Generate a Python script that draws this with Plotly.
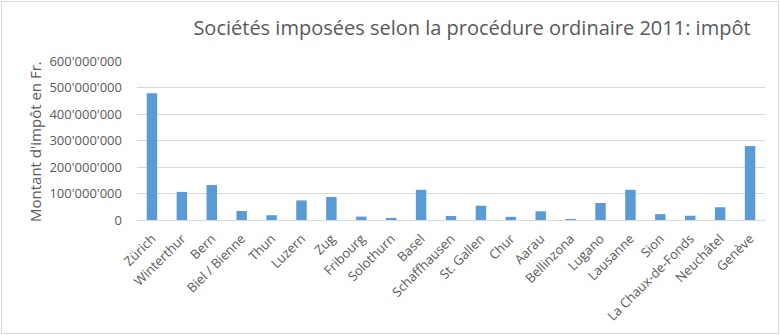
import plotly.graph_objects as go

# Communes and the tax amount (CHF) of ordinarily taxed companies, 2011
communes = [
    "Zürich", "Winterthur", "Bern", "Biel / Bienne", "Thun", "Luzern", "Zug",
    "Fribourg", "Solothurn", "Basel", "Schaffhausen", "St. Gallen", "Chur",
    "Aarau", "Bellinzona", "Lugano", "Lausanne", "Sion", "La Chaux-de-Fonds",
    "Neuchâtel", "Genève",
]
impot = [
    478e6, 106e6, 132e6, 34e6, 18e6, 74e6, 87e6,
    13e6, 8e6, 114e6, 15e6, 54e6, 12e6,
    33e6, 3e6, 64e6, 114e6, 22e6, 16e6,
    48e6, 279e6,
]
y_ticks = [0, 100e6, 200e6, 300e6, 400e6, 500e6, 600e6]

W, H = 780, 335
L, R, T, B = 137, 15, 61, 115
pw, ph = W - L - R, H - T - B

grey_text = "#595959"
font_family = "Open Sans, Liberation Sans, sans-serif"

fig = go.Figure(
    go.Bar(
        x=communes,
        y=impot,
        marker=dict(color="#5B9BD5", line=dict(width=0)),
    )
)

fig.update_layout(
    width=W,
    height=H,
    margin=dict(l=L, r=R, t=T, b=B),
    paper_bgcolor="white",
    plot_bgcolor="white",
    bargap=0.65,
    separators=".'",
    showlegend=False,
    font=dict(family=font_family, color=grey_text, size=12),
    title=dict(
        text="Sociétés imposées selon la procédure ordinaire 2011: impôt",
        xref="container",
        x=472 / W,
        xanchor="center",
        yref="container",
        y=1 - 28 / H,
        yanchor="middle",
        font=dict(size=20, color=grey_text, family=font_family),
    ),
)

fig.update_xaxes(
    tickangle=-45,
    tickfont=dict(size=13, color=grey_text),
    showline=True,
    linecolor="#D9D9D9",
    linewidth=1,
    ticks="",
    ticklabelstandoff=5,
    showgrid=False,
)

fig.update_yaxes(
    range=[0, 600e6],
    tickvals=y_ticks,
    tickformat=",d",
    tickfont=dict(size=13, color=grey_text),
    showgrid=True,
    gridcolor="#D9D9D9",
    gridwidth=1,
    zeroline=False,
    showline=False,
    ticks="",
    ticklabelstandoff=14,
)

# Vertical axis title
fig.add_annotation(
    text="Montant d'impôt en Fr.",
    textangle=-90,
    xref="paper", yref="paper",
    x=(35 - L) / pw, y=(H - B - 142) / ph,
    xanchor="center", yanchor="middle",
    showarrow=False,
    font=dict(size=15, color=grey_text),
)

# Light frame around the whole chart area
fig.add_shape(
    type="rect",
    xref="paper", yref="paper",
    x0=(1.5 - L) / pw, x1=(W - 1.5 - L) / pw,
    y0=-(B - 1.5) / ph, y1=1 + (T - 1.5) / ph,
    line=dict(color="#D9D9D9", width=1),
    layer="below",
)

fig.write_html("out.html")
